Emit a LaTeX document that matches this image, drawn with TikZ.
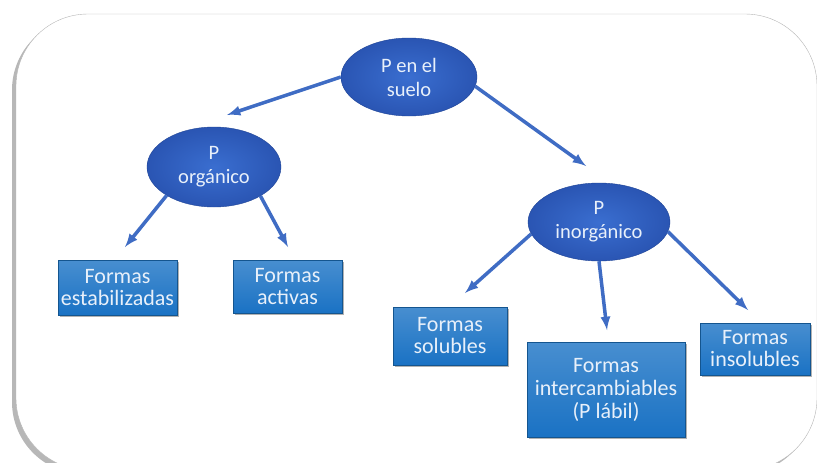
\documentclass[tikz,border=0pt]{standalone}
\usepackage{fontspec}
\setmainfont{Carlito}
\usepackage{xcolor}
\usepackage{tikz}
\usetikzlibrary{shapes.geometric, arrows, shadows}
\definecolor{arrowBlue}{HTML}{3F6CC4}
\definecolor{ovalInner}{HTML}{3A6ED0}
\definecolor{ovalOuter}{HTML}{2A55B3}
\definecolor{ovalEdge}{HTML}{1F4497}
\definecolor{boxBlue}{HTML}{1A72C4}
\definecolor{boxEdge}{HTML}{14558F}
\definecolor{textLight}{HTML}{E8F0FA}
\definecolor{frameGrey}{HTML}{B4B4B4}

\begin{document}
\begin{tikzpicture} [
    x=1pt, y=-1pt,
    frame/.style={draw=frameGrey, fill=white, rounded corners=72pt, thin,
        drop shadow={shadow xshift=-4pt, shadow yshift=-4pt, opacity=0.4, fill=black!70}},
    oval/.style={ellipse, inner sep=0pt, draw=ovalEdge, thin, inner color=ovalInner, outer color=ovalOuter,
        text=textLight, align=center, font=\fontsize{20.5}{24}\selectfont},
    formBox/.style={rectangle, inner sep=0pt, draw=boxEdge, thin, top color=boxBlue!80!white, bottom color=boxBlue,
        text=textLight, align=center, font=\fontsize{22}{22}\selectfont,
        drop shadow={shadow xshift=2pt, shadow yshift=-2pt, opacity=0.6}},
    arrow/.style={line width=3.5pt, -latex, color=arrowBlue}
]
    \useasboundingbox (0,0) rectangle (817,463);
    \path[frame] (16,14) rectangle (817,470);

    % top
    \node[oval, minimum width=136pt, minimum height=78pt] (suelo) at (409, 77) {P en el\\suelo};

    % 1
    \node[oval, minimum width=134pt, minimum height=80pt] (organico) at (214, 167) {P\\orgánico};
    
    \node[formBox, minimum width=119pt, minimum height=55pt] (estabilizadas) at (117.5, 287.5) {Formas\\estabilizadas};
    \node[formBox, minimum width=109pt, minimum height=53pt] (activas) at (287.5, 286.5) {Formas\\activas};

    % 2
    \node[oval, minimum width=142pt, minimum height=78pt] (inorganico) at (599, 222) {P\\inorgánico};

    \node[formBox, minimum width=114pt, minimum height=58pt] (solubles) at (450, 336) {Formas\\solubles};
    \node[formBox, minimum width=158pt, minimum height=95pt, font=\fontsize{22}{23}\selectfont] (intercambiables) at (606, 389.5) {Formas\\intercambiables\\(P lábil)};
    \node[formBox, minimum width=110pt, minimum height=52pt] (insolubles) at (755, 349) {Formas\\insolubles};

    % arrow tips
    \coordinate (organicoTip) at (227, 115);
    \coordinate (inorganicoTip) at (586, 166);
    \coordinate (estabilizadasTip) at (125, 247);
    \coordinate (activasTip) at (288, 247);
    \coordinate (solublesTip) at (465, 293);
    \coordinate (intercambiablesTip) at (607, 330);
    \coordinate (insolublesTip) at (748, 310);

    \draw [arrow] (suelo.west) -- (organicoTip);
    \draw [arrow] (suelo.-8) -- (inorganicoTip);
    \draw [arrow] (organico.211) -- (estabilizadasTip);
    \draw [arrow] (organico.-32) -- (activasTip);
    \draw [arrow] (inorganico.190) -- (solublesTip);
    \draw [arrow] (inorganico.south) -- (intercambiablesTip);
    \draw [arrow] (inorganico.-8) -- (insolublesTip);

\end{tikzpicture}
\end{document}
